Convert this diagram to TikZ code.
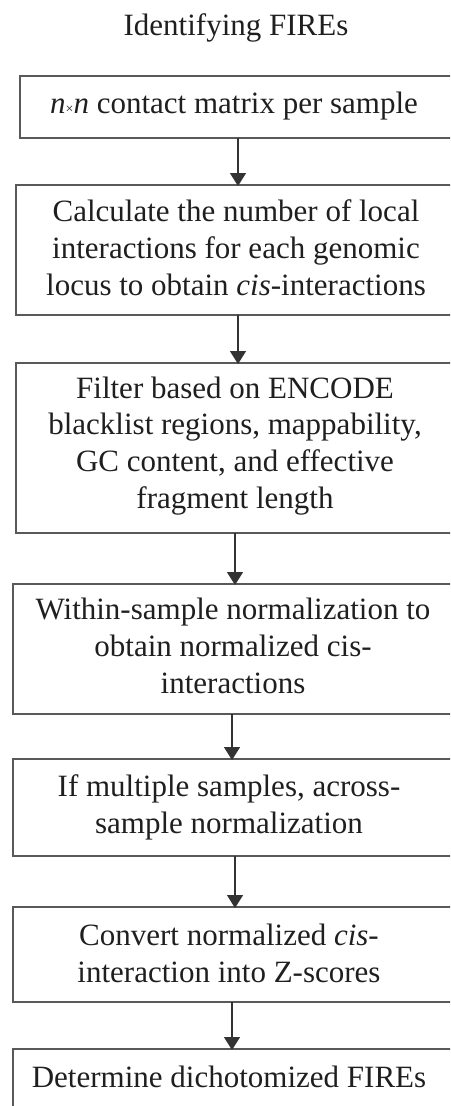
\documentclass[tikz,border=0pt]{standalone}
\usepackage{fontspec}
\setmainfont{Liberation Serif}
\usetikzlibrary{arrows.meta}
\tikzset{
  stepbox/.style={draw=black!65, line width=2pt, fill=none},
  steptext/.style={anchor=base, align=center, inner sep=0pt, text=black!88,
    font=\fontsize{31}{36.6}\selectfont},
  flow/.style={draw=black!80, line width=1.5pt,
    -{Triangle[width=16pt,length=13pt]}, shorten >=-1pt}
}
\begin{document}
\begin{tikzpicture}[x=1pt,y=-1pt]
\useasboundingbox (0,0) rectangle (450,1106);
\clip (0,0) rectangle (450,1106);

% title
\node[steptext] (title) at (236,35) {Identifying FIREs};

% step boxes (they run past the right and bottom edges)
\draw[stepbox] (20,76) rectangle (460,138) node[pos=0.5, inner sep=0] (b1) {};
\draw[stepbox] (16,185) rectangle (460,315) node[pos=0.5, inner sep=0] (b2) {};
\draw[stepbox] (16,363) rectangle (460,533) node[pos=0.5, inner sep=0] (b3) {};
\draw[stepbox] (13,584) rectangle (460,714) node[pos=0.5, inner sep=0] (b4) {};
\draw[stepbox] (13,759) rectangle (460,856) node[pos=0.5, inner sep=0] (b5) {};
\draw[stepbox] (13,907) rectangle (460,1002) node[pos=0.5, inner sep=0] (b6) {};
\draw[stepbox] (13,1049) rectangle (460,1130) node[pos=0.5, inner sep=0] (b7) {};

% step texts (base anchor = baseline of the last line)
\node[steptext] (t1) at (234,113)
  {\textit{n}{\fontsize{14}{14}\selectfont ×}\textit{n} contact matrix per sample};
\node[steptext] (t2) at (236,295)
  {Calculate the number of local\\interactions for each genomic\\locus to obtain \textit{cis}-interactions};
\node[steptext] (t3) at (235,508)
  {Filter based on ENCODE\\blacklist regions, mappability,\\GC content, and effective\\fragment length};
\node[steptext] (t4) at (233,693)
  {Within-sample normalization to\\obtain normalized cis-\\interactions};
\node[steptext] (t5) at (229,833)
  {If multiple samples, across-\\sample normalization};
\node[steptext] (t6) at (229,982)
  {Convert normalized \textit{cis}-\\interaction into Z-scores};
\node[steptext] (t7) at (229,1087) {Determine dichotomized FIREs};

% connectors
\coordinate (a1) at (238,0);
\coordinate (a2) at (238,0);
\coordinate (a3) at (235,0);
\coordinate (a4) at (232,0);
\coordinate (a5) at (235,0);
\coordinate (a6) at (232,0);
\draw[flow] (a1 |- 0,138) -- (a1 |- 0,185);
\draw[flow] (a2 |- 0,315) -- (a2 |- 0,363);
\draw[flow] (a3 |- 0,533) -- (a3 |- 0,584);
\draw[flow] (a4 |- 0,714) -- (a4 |- 0,759);
\draw[flow] (a5 |- 0,856) -- (a5 |- 0,907);
\draw[flow] (a6 |- 0,1002) -- (a6 |- 0,1049);
\end{tikzpicture}
\end{document}
